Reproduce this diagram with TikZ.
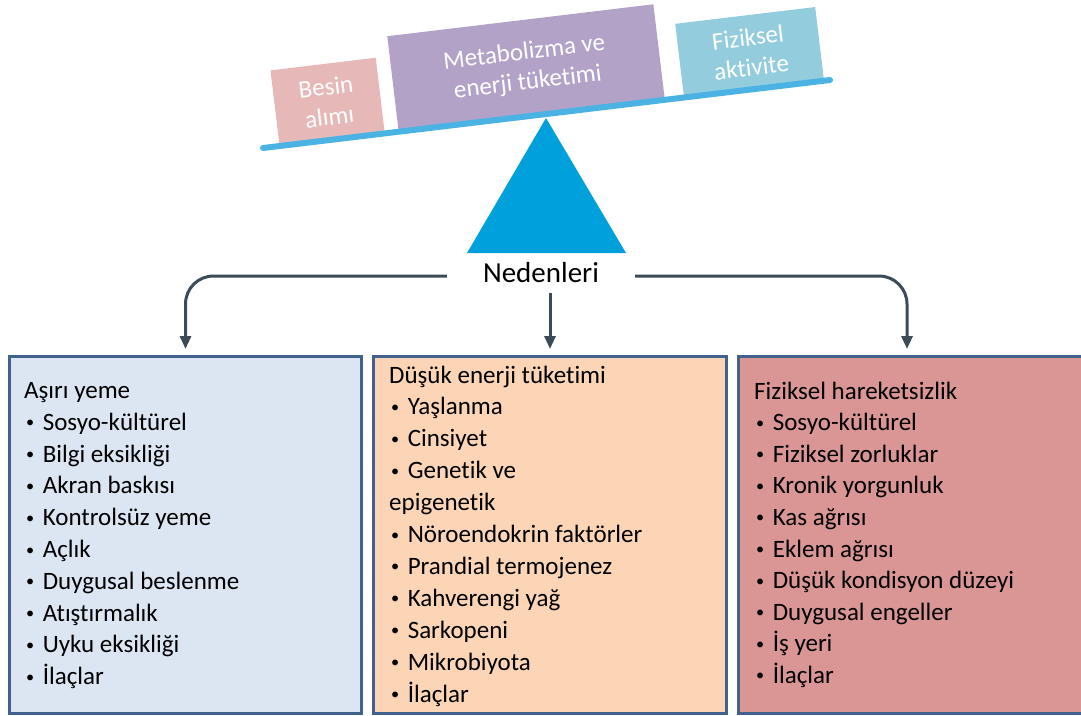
\documentclass[tikz,border=0pt]{standalone}
\usepackage{fontspec}
\usepackage{graphicx}
\setmainfont{Carlito}[Ligatures=NoCommon]
\usetikzlibrary{calc,arrows.meta}
\definecolor{beamblue}{HTML}{4BB3E3}
\definecolor{fulcrumblue}{HTML}{00A0DC}
\definecolor{intakepink}{HTML}{E6B9B8}
\definecolor{metapurple}{HTML}{B3A2C7}
\definecolor{activeblue}{HTML}{93CDDD}
\definecolor{overfill}{HTML}{DCE6F2}
\definecolor{lowfill}{HTML}{FBD5B5}
\definecolor{inactfill}{HTML}{D99694}
\definecolor{boxline}{HTML}{41628C}
\definecolor{arrowgrey}{HTML}{3B4B57}
\newcommand\bul{\hspace{2pt}\raisebox{2.5pt}{\scalebox{0.65}{•}}\hspace{8.5pt}}
\tikzset{
	weight/.style={rotate=6.84, anchor=south, inner sep=0, text=white, align=center, font=\fontsize{25}{30}\selectfont},
	causebox/.style={draw=boxline, line width=3pt, anchor=north west, minimum height=357, inner sep=0},
	item/.style={anchor=base west, inner sep=0, font=\fontsize{25}{30}\selectfont},
	causearrow/.style={draw=arrowgrey, line width=3pt, rounded corners=28, -{Triangle[length=13pt,width=11pt]}, shorten >=6pt}
}

\begin{document}
\begin{tikzpicture}[x=1pt, y=-1pt]
		%%%%% START %%%%%
		\useasboundingbox (0, 0) rectangle (1081, 715);
		
		% balance
		\fill[fulcrumblue] (546, 118) -- (626, 253) -- (467, 253) -- cycle;
		\coordinate (beamL) at (263, 148);
		\coordinate (beamR) at (830, 80);
		\node[weight, fill=intakepink, minimum width=106, minimum height=76] (intake) at ($(beamL)!0.122!(beamR)$) {Besin\\alımı};
		\node[weight, fill=metapurple, minimum width=268, minimum height=96] (meta) at ($(beamL)!0.474!(beamR)$) {Metabolizma ve\\enerji tüketimi};
		\node[weight, fill=activeblue, minimum width=141, minimum height=74] (active) at ($(beamL)!0.866!(beamR)$) {Fiziksel\\aktivite};
		\draw[beamblue, line width=6pt, line cap=round] (beamL) -- (beamR);
		
		\node[font=\fontsize{29}{34}\selectfont, inner xsep=36, inner ysep=3, text depth=8pt] (ned) at (541, 276) {Nedenleri};
		
		% boxes
		\node[causebox, fill=overfill, minimum width=352] (over) at (8, 355) {};
		\node[causebox, fill=lowfill, minimum width=353] (low) at (372, 355) {};
		\node[causebox, fill=inactfill, minimum width=352] (inact) at (737, 355) {};
		
		\draw[causearrow] (ned.west) -| (over.north);
		\draw[causearrow] (low.north |- ned.south) -- (low.north);
		\draw[causearrow] (ned.east) -| ($(inact.north west)+(170, 0)$);
		
		% lists
		\foreach \t [count=\i from 0] in {Aşırı yeme, \bul Sosyo-kültürel, \bul Bilgi eksikliği, \bul Akran baskısı, \bul Kontrolsüz yeme, \bul Açlık, \bul Duygusal beslenme, \bul Atıştırmalık, \bul Uyku eksikliği, \bul İlaçlar}
			\node[item] (overtext\i) at (24, 398.5+31.8*\i) {\t};
		\foreach \t [count=\i from 0] in {Düşük enerji tüketimi, \bul Yaşlanma, \bul Cinsiyet, \bul Genetik ve, epigenetik, \bul Nöroendokrin faktörler, \bul Prandial termojenez, \bul Kahverengi yağ, \bul Sarkopeni, \bul Mikrobiyota, \bul İlaçlar}
			\node[item] (lowtext\i) at (389, 383+31.9*\i) {\t};
		\foreach \t [count=\i from 0] in {Fiziksel hareketsizlik, \bul Sosyo-kültürel, \bul Fiziksel zorluklar, \bul Kronik yorgunluk, \bul Kas ağrısı, \bul Eklem ağrısı, \bul Düşük kondisyon düzeyi, \bul Duygusal engeller, \bul İş yeri, \bul İlaçlar}
			\node[item] (inacttext\i) at (754, 399+31.6*\i) {\t};
		%%%%% END %%%%%
\end{tikzpicture}
\end{document}
